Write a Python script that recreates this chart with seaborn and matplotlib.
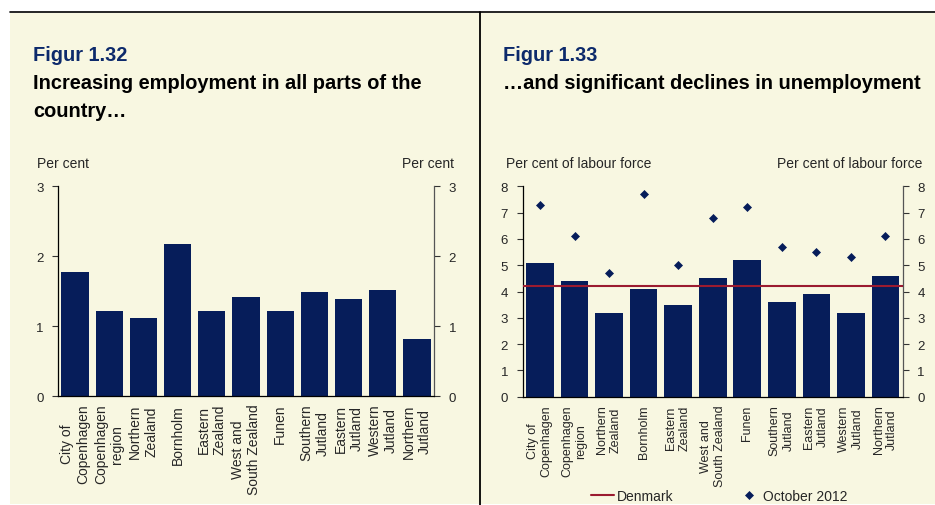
import matplotlib
matplotlib.use("Agg")
import numpy as np
import pandas as pd
import matplotlib.pyplot as plt
import seaborn as sns
from matplotlib.lines import Line2D
from matplotlib.patches import Rectangle

# ---- data -------------------------------------------------------------
regions = [
    "City of\nCopenhagen", "Copenhagen\nregion", "Northern\nZealand",
    "Bornholm", "Eastern\nZealand", "West and\nSouth Zealand", "Funen",
    "Southern\nJutland", "Eastern\nJutland", "Western\nJutland",
    "Northern\nJutland",
]
employment_growth = [1.77, 1.21, 1.12, 2.17, 1.22, 1.42, 1.21, 1.48, 1.38, 1.51, 0.81]
unemployment_latest = [5.1, 4.4, 3.2, 4.1, 3.5, 4.5, 5.2, 3.6, 3.9, 3.2, 4.6]
unemployment_oct2012 = [7.3, 6.1, 4.7, 7.7, 5.0, 6.8, 7.2, 5.7, 5.5, 5.3, 6.1]
unemployment_denmark = 4.2

left_yticks = [0, 1, 2, 3]
right_yticks = [0, 1, 2, 3, 4, 5, 6, 7, 8]

# ---- style ------------------------------------------------------------
sns.set_style("white")
plt.rcParams["font.family"] = ["Liberation Sans", "DejaVu Sans"]

BEIGE = "#F8F7E1"
NAVY = "#061D5A"
TITLE_BLUE = "#0D2A6B"
RED = "#9B1B30"

W, H = 935, 506
fig = plt.figure(figsize=(W / 100, H / 100), dpi=100)
fig.patch.set_facecolor("white")

# panel background and rules
fig.add_artist(Rectangle((10 / W, 1 / H), 1 - 10 / W, 1 - 13.5 / H - 1 / H,
                         transform=fig.transFigure, facecolor=BEIGE,
                         edgecolor="none", zorder=-2))
fig.add_artist(Line2D([10 / W, 1], [1 - 12.5 / H] * 2, transform=fig.transFigure,
                      color="black", lw=1.2, zorder=-1))
fig.add_artist(Line2D([479.5 / W] * 2, [0, 1 - 12.5 / H], transform=fig.transFigure,
                      color="black", lw=1.3, zorder=-1))


def px_y(y):
    return 1 - y / H


# titles
fig.text(33 / W, px_y(61), "Figur 1.32", fontsize=14.4, fontweight="bold",
         color=TITLE_BLUE, va="baseline")
fig.text(33 / W, px_y(89.3), "Increasing employment in all parts of the",
         fontsize=14.4, fontweight="bold", color="black", va="baseline")
fig.text(33 / W, px_y(117.3), "country\u2026", fontsize=14.4, fontweight="bold",
         color="black", va="baseline")

fig.text(502.7 / W, px_y(61), "Figur 1.33", fontsize=14.4, fontweight="bold",
         color=TITLE_BLUE, va="baseline")
fig.text(502.7 / W, px_y(89.3), "\u2026and significant declines in unemployment",
         fontsize=14.4, fontweight="bold", color="black", va="baseline")

# axis unit labels
fig.text(37 / W, px_y(168), "Per cent", fontsize=10, va="baseline")
fig.text(454 / W, px_y(168), "Per cent", fontsize=10, va="baseline", ha="right")
fig.text(506 / W, px_y(168), "Per cent of labour force", fontsize=10, va="baseline")
fig.text(922.7 / W, px_y(168), "Per cent of labour force", fontsize=10,
         va="baseline", ha="right")

ax1 = fig.add_axes([58 / W, px_y(397), (434 - 58) / W, (397 - 187) / H])
ax2 = fig.add_axes([522.7 / W, px_y(397.7), (902.7 - 522.7) / W, (397.7 - 187.3) / H])

df1 = pd.DataFrame({"region": regions, "value": employment_growth})
df2 = pd.DataFrame({"region": regions, "latest": unemployment_latest,
                    "oct2012": unemployment_oct2012})

sns.barplot(data=df1, x="region", y="value", order=regions, color=NAVY,
            saturation=1, width=0.8, edgecolor="none", errorbar=None, ax=ax1)
sns.barplot(data=df2, x="region", y="latest", order=regions, color=NAVY,
            saturation=1, width=0.8, edgecolor="none", errorbar=None, ax=ax2)
sns.pointplot(data=df2, x="region", y="oct2012", order=regions, color=NAVY,
              linestyle="none", marker="D", markersize=4, markeredgewidth=0.5,
              errorbar=None, ax=ax2, label="October 2012")
ax2.axhline(unemployment_denmark, color=RED, lw=1.5, label="Denmark", zorder=4)
if ax2.get_legend() is not None:
    ax2.get_legend().remove()


def style_axis(ax, yticks, label_size):
    n = len(regions)
    ax.set_facecolor("none")
    ax.set_xlim(-0.5, n - 0.5)
    ax.set_ylim(yticks[0], yticks[-1])
    ax.set_xlabel("")
    ax.set_ylabel("")
    ax.set_xticks(range(n))
    ax.set_xticklabels(regions, rotation=90, ha="center", va="top",
                       multialignment="center", fontsize=label_size)
    ax.set_xticks(np.arange(-0.5, n, 1), minor=True)
    ax.tick_params(axis="x", which="major", length=0, pad=5.6)
    ax.tick_params(axis="x", which="minor", length=4, width=0.8,
                   direction="out", color="black")
    ax.set_yticks(yticks)
    ax.tick_params(axis="y", which="major", direction="out", length=4, width=0.8,
                   left=True, right=True, labelleft=True, labelright=True,
                   pad=6.5, labelsize=9.5, color="#333333")
    ax.tick_params(axis="y", which="minor", left=False, right=False)
    ax.spines["top"].set_visible(False)
    for side in ("left", "bottom"):
        ax.spines[side].set_visible(True)
        ax.spines[side].set_color("black")
        ax.spines[side].set_linewidth(0.9)
    ax.spines["right"].set_visible(True)
    ax.spines["right"].set_color("#555555")
    ax.spines["right"].set_linewidth(0.9)
    ax.grid(False)


style_axis(ax1, left_yticks, 10)
style_axis(ax2, right_yticks, 9)

handles, labels = ax2.get_legend_handles_labels()
order = [labels.index("Denmark"), labels.index("October 2012")]
fig.legend([handles[i] for i in order], [labels[i] for i in order],
           loc="center", bbox_to_anchor=(0.7695, 0.018), ncol=2, frameon=False,
           fontsize=10, handlelength=1.6, handletextpad=0.25, columnspacing=4.6,
           borderpad=0.0)

fig.savefig("out.png", dpi=100, facecolor="white")
